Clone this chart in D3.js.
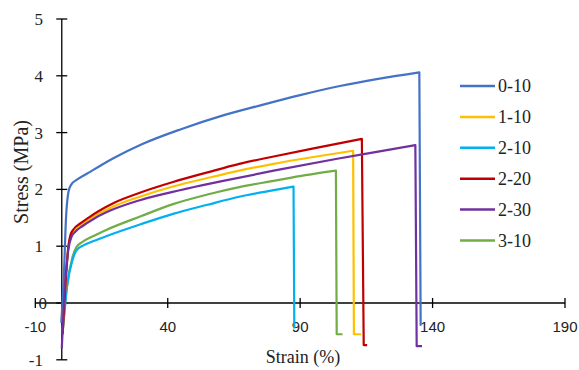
<!DOCTYPE html>
<html><head><meta charset="utf-8">
<script src="https://cdn.jsdelivr.net/npm/d3@7"></script>
<style>
body{margin:0;background:#fff;}
svg{display:block;}
</style></head>
<body><svg id="c" width="579" height="370"></svg>
<script>
const seriesNames = ["0-10","1-10","2-10","2-20","2-30","3-10"];
const seriesColors = ["#4472C4","#FFC000","#00B0F0","#C00000","#7030A0","#70AD47"];
// rising part: [strain %, stress MPa]
const rise_0_10 = [[-0.2,-0.35],[0.8,0.5],[1.6,1.5],[2.5,1.95],[3.5,2.08],[6,2.18],[10,2.29],[15,2.43],[20,2.56],[30,2.79],[45,3.06],[60,3.29],[75,3.48],[90,3.66],[105,3.82],[120,3.95],[135,4.06]];
const rise_1_10 = [[0.3,-0.5],[1.5,0.4],[2.5,1.0],[3.3,1.18],[4.3,1.27],[7,1.37],[10,1.46],[14,1.57],[20,1.71],[30,1.88],[42,2.05],[55,2.2],[67,2.33],[80,2.45],[95,2.57],[110,2.68]];
const rise_2_10 = [[0.4,-0.45],[2,0.3],[4,0.75],[5.6,0.93],[8,1.01],[12,1.09],[17,1.18],[30,1.39],[42,1.57],[55,1.73],[67,1.87],[78,1.97],[87.5,2.05]];
const rise_2_20 = [[0.3,-0.55],[1.5,0.4],[2.5,1.0],[3.3,1.2],[4.3,1.29],[7,1.4],[10,1.5],[14,1.62],[20,1.77],[30,1.95],[42,2.13],[55,2.3],[67,2.45],[80,2.58],[97,2.74],[113.3,2.89]];
const rise_2_30 = [[0,-0.8],[1.2,0.3],[2.5,0.95],[3.7,1.17],[5,1.25],[8,1.36],[12,1.48],[17,1.6],[29.5,1.81],[45,1.99],[60,2.14],[80,2.33],[104,2.54],[120,2.67],[133.5,2.78]];
const rise_3_10 = [[0.3,-0.55],[2,0.3],[4,0.8],[5.6,0.99],[8,1.08],[12,1.18],[17,1.29],[30,1.53],[42,1.74],[55,1.91],[67,2.04],[80,2.15],[92,2.25],[103.5,2.33]];
// failure drop after the last point
const drop_0_10 = [[135.5,-0.4]];
const drop_1_10 = [[110.3,-0.55],[113,-0.55]];
const drop_2_10 = [[87.8,-0.45]];
const drop_2_20 = [[114,-0.74],[115.3,-0.74]];
const drop_2_30 = [[134,-0.76],[136,-0.76]];
const drop_3_10 = [[103.8,-0.55],[106,-0.55]];
const rises = [rise_0_10,rise_1_10,rise_2_10,rise_2_20,rise_2_30,rise_3_10];
const drops = [drop_0_10,drop_1_10,drop_2_10,drop_2_20,drop_2_30,drop_3_10];
const xTicks = [-10,40,90,140,190];
const yTicks = [-1,0,1,2,3,4,5];

const svg = d3.select("#c");
const x = d3.scaleLinear().domain([-10,190]).range([35.3,565]);
const y = d3.scaleLinear().domain([-1,5]).range([359.8,19]);

// axes
const ax = svg.append("g").attr("stroke","#000").attr("stroke-width",1.3);
ax.append("line").attr("x1",x(-10)).attr("x2",x(190)).attr("y1",y(0)).attr("y2",y(0));
ax.append("line").attr("x1",x(0)).attr("x2",x(0)).attr("y1",y(-1)).attr("y2",y(5));
xTicks.forEach(t=>ax.append("line").attr("x1",x(t)).attr("x2",x(t)).attr("y1",y(0)-5).attr("y2",y(0)+5));
yTicks.forEach(t=>ax.append("line").attr("x1",x(0)-5.5).attr("x2",x(0)+5.5).attr("y1",y(t)).attr("y2",y(t)));

// tick labels
svg.append("g").selectAll("text").data(xTicks).join("text")
  .attr("x",d=>x(d)).attr("y",y(0)+29).attr("text-anchor","middle")
  .attr("font-family","Liberation Sans, Arial, sans-serif").attr("font-size",15).attr("fill","#222")
  .text(d=>d);
svg.append("g").selectAll("text").data(yTicks).join("text")
  .attr("x",d=>d===0?47:43).attr("y",d=>y(d)+6).attr("text-anchor","end")
  .attr("font-family","Liberation Serif, Times New Roman, serif").attr("font-size",17).attr("fill","#222")
  .text(d=>d);

// titles
svg.append("text").attr("x",303).attr("y",363).attr("text-anchor","middle")
  .attr("font-family","Liberation Serif, serif").attr("font-size",18).attr("fill","#222").text("Strain (%)");
svg.append("text").attr("transform","translate(28,172) rotate(-90)").attr("text-anchor","middle")
  .attr("font-family","Liberation Serif, serif").attr("font-size",20).attr("fill","#222").text("Stress (MPa)");

// curves
const riseLine = d3.line().x(d=>x(d[0])).y(d=>y(d[1])).curve(d3.curveMonotoneX);
const dropLine = d3.line().x(d=>x(d[0])).y(d=>y(d[1]));
const order = [0,5,2,1,3,4];
order.forEach(i=>{
  const r = rises[i];
  const tail = [r[r.length-1]].concat(drops[i]);
  const dstr = riseLine(r) + dropLine(tail).replace(/^M[^L]*/,"");
  svg.append("path").attr("d",dstr).attr("fill","none")
    .attr("stroke",seriesColors[i]).attr("stroke-width",2.2).attr("stroke-linejoin","round");
});

// legend
const lg = svg.append("g");
seriesNames.forEach((n,i)=>{
  const yy = 86 + i*30.9;
  lg.append("line").attr("x1",460).attr("x2",495).attr("y1",yy).attr("y2",yy)
    .attr("stroke",seriesColors[i]).attr("stroke-width",2.5);
  lg.append("text").attr("x",498).attr("y",yy+6).attr("font-family","Liberation Serif, serif")
    .attr("font-size",18).attr("fill","#222").text(n);
});
</script></body></html>
